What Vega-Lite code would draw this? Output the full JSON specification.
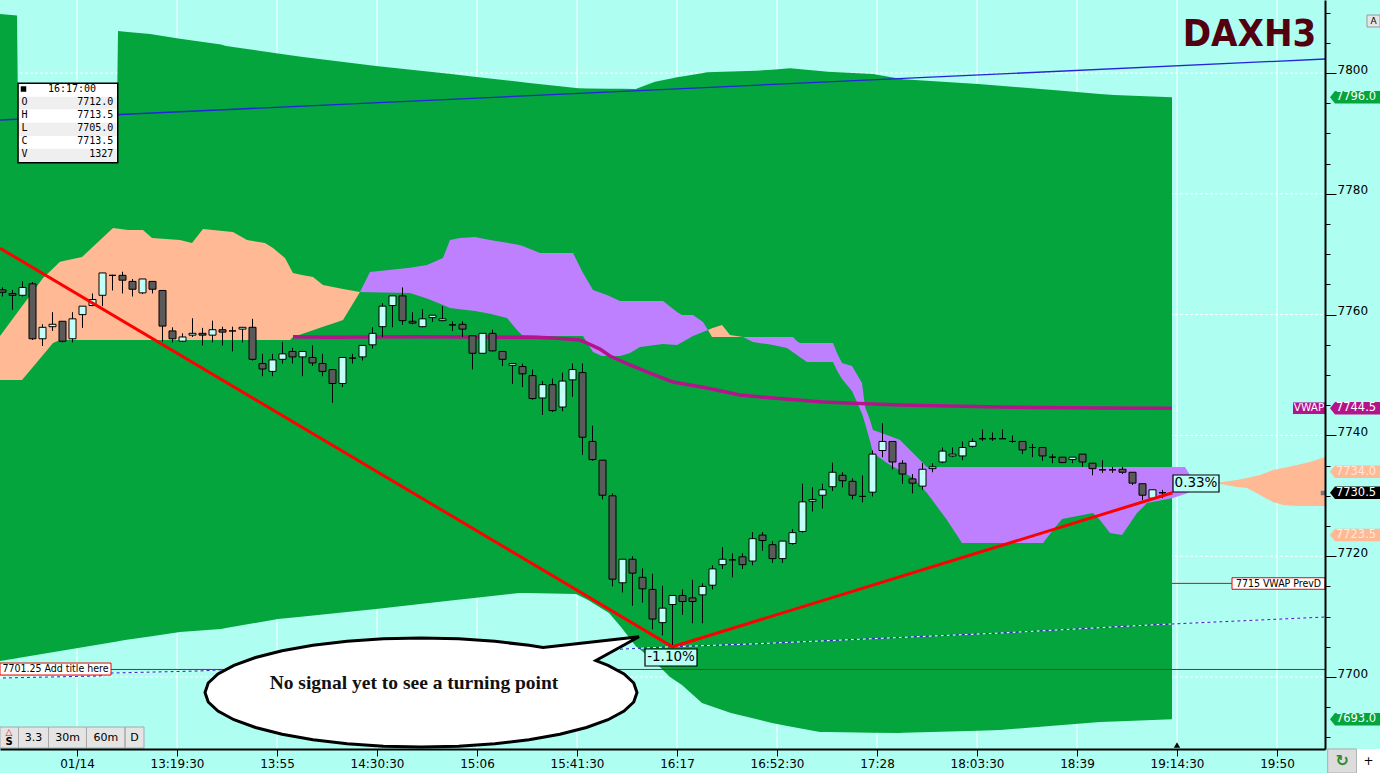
{
"$schema":"https://vega.github.io/schema/vega-lite/v6.json",
"width":1325,"height":749,
"autosize":{"type":"none"},
"padding":{"left":0,"top":0,"right":55,"bottom":24},
"background":"#aefef2",
"config":{"view":{"stroke":null},"text":{"font":"DejaVu Sans"}},
"resolve":{"axis":{"y":"independent"}},
"datasets":{
"vgrid":[{"k":7.45,"p":7688.08,"p2":7812.09},{"k":17.45,"p":7688.08,"p2":7812.09},{"k":27.45,"p":7688.08,"p2":7812.09},{"k":37.45,"p":7688.08,"p2":7812.09},{"k":47.45,"p":7688.08,"p2":7812.09},{"k":57.45,"p":7688.08,"p2":7812.09},{"k":67.45,"p":7688.08,"p2":7812.09},{"k":77.45,"p":7688.08,"p2":7812.09},{"k":87.45,"p":7688.08,"p2":7812.09},{"k":97.45,"p":7688.08,"p2":7812.09},{"k":107.45,"p":7688.08,"p2":7812.09},{"k":117.45,"p":7688.08,"p2":7812.09},{"k":127.45,"p":7688.08,"p2":7812.09}],
"hgrid":[{"k":-0.25,"k2":132.25,"p":7700},{"k":-0.25,"k2":132.25,"p":7720},{"k":-0.25,"k2":132.25,"p":7740},{"k":-0.25,"k2":132.25,"p":7760},{"k":-0.25,"k2":132.25,"p":7780},{"k":-0.25,"k2":132.25,"p":7800}],
"band":[{"k":-0.25,"p":7809.77,"p2":7702.65},{"k":1.45,"p":7809.52,"p2":7703.11},{"k":1.55,"p":7793.87,"p2":7703.15},{"k":5.75,"p":7793.87,"p2":7704.3},{"k":11.45,"p":7793.87,"p2":7705.89},{"k":11.55,"p":7806.95,"p2":7705.93},{"k":12.25,"p":7806.84,"p2":7706.13},{"k":14.75,"p":7806.46,"p2":7706.72},{"k":17.75,"p":7805.68,"p2":7707.45},{"k":21.85,"p":7804.72,"p2":7707.95},{"k":22.35,"p":7804.47,"p2":7708.1},{"k":27.55,"p":7803.25,"p2":7709.6},{"k":29.85,"p":7802.7,"p2":7709.98},{"k":37.35,"p":7801.16,"p2":7711.26},{"k":44.85,"p":7799.83,"p2":7712.65},{"k":47.15,"p":7799.4,"p2":7713.08},{"k":51.65,"p":7798.54,"p2":7713.91},{"k":52.45,"p":7798.39,"p2":7713.89},{"k":57.35,"p":7797.52,"p2":7713.74},{"k":57.65,"p":7797.47,"p2":7713.49},{"k":58.55,"p":7797.45,"p2":7712.75},{"k":60.65,"p":7797.4,"p2":7710.6},{"k":61.85,"p":7797.38,"p2":7708.28},{"k":63.35,"p":7797.35,"p2":7705.07},{"k":63.45,"p":7797.42,"p2":7704.97},{"k":65.05,"p":7798.43,"p2":7702.81},{"k":65.25,"p":7798.56,"p2":7702.48},{"k":66.75,"p":7799.06,"p2":7700.0},{"k":67.45,"p":7799.29,"p2":7699.22},{"k":67.95,"p":7799.42,"p2":7698.68},{"k":69.95,"p":7799.98,"p2":7695.7},{"k":70.45,"p":7800.12,"p2":7695.41},{"k":72.85,"p":7800.25,"p2":7694.04},{"k":75.35,"p":7800.38,"p2":7693.03},{"k":76.95,"p":7800.56,"p2":7692.38},{"k":78.75,"p":7800.78,"p2":7691.82},{"k":81.75,"p":7800.33,"p2":7690.89},{"k":82.55,"p":7800.22,"p2":7690.88},{"k":87.05,"p":7799.83,"p2":7690.78},{"k":89.75,"p":7799.04,"p2":7690.73},{"k":90.05,"p":7798.96,"p2":7690.75},{"k":97.55,"p":7798.18,"p2":7691.11},{"k":99.75,"p":7797.88,"p2":7691.23},{"k":105.05,"p":7797.19,"p2":7691.92},{"k":109.75,"p":7796.54,"p2":7692.55},{"k":111.15,"p":7796.36,"p2":7692.65},{"k":116.95,"p":7796.0,"p2":7693.0}],
"cloud":[
{"seg":"c1","kind":"up","k":-0.25,"p":7756.46,"p2":7749.17},{"seg":"c1","kind":"up","k":1.95,"p":7761.37,"p2":7749.17},{"seg":"c1","kind":"up","k":4.05,"p":7766.06,"p2":7753.33},{"seg":"c1","kind":"up","k":5.05,"p":7767.63,"p2":7755.3},{"seg":"c1","kind":"up","k":5.75,"p":7768.74,"p2":7755.79},{"seg":"c1","kind":"up","k":7.95,"p":7769.54,"p2":7755.79},{"seg":"c1","kind":"up","k":11.05,"p":7774.34,"p2":7755.79},{"seg":"c1","kind":"up","k":12.55,"p":7774.01,"p2":7755.79},{"seg":"c1","kind":"up","k":14.05,"p":7774.01,"p2":7755.79},{"seg":"c1","kind":"up","k":14.95,"p":7772.68,"p2":7755.79},{"seg":"c1","kind":"up","k":17.75,"p":7772.35,"p2":7755.79},{"seg":"c1","kind":"up","k":18.95,"p":7771.85,"p2":7755.79},{"seg":"c1","kind":"up","k":20.05,"p":7774.17,"p2":7755.79},{"seg":"c1","kind":"up","k":23.05,"p":7773.68,"p2":7755.79},{"seg":"c1","kind":"up","k":24.45,"p":7772.35,"p2":7755.79},{"seg":"c1","kind":"up","k":26.25,"p":7771.85,"p2":7755.79},{"seg":"c1","kind":"up","k":27.05,"p":7771.03,"p2":7755.79},{"seg":"c1","kind":"up","k":28.25,"p":7769.37,"p2":7755.79},{"seg":"c1","kind":"up","k":28.75,"p":7767.81,"p2":7755.79},{"seg":"c1","kind":"up","k":29.05,"p":7766.89,"p2":7756.29},{"seg":"c1","kind":"up","k":29.95,"p":7766.56,"p2":7756.8},{"seg":"c1","kind":"up","k":31.05,"p":7766.23,"p2":7757.42},{"seg":"c1","kind":"up","k":32.05,"p":7764.9,"p2":7757.98},{"seg":"c1","kind":"up","k":33.05,"p":7764.57,"p2":7758.54},{"seg":"c1","kind":"up","k":34.05,"p":7764.26,"p2":7759.11},{"seg":"c1","kind":"up","k":35.75,"p":7763.74,"p2":7763.74},
{"seg":"c2","kind":"down","k":35.75,"p":7763.74,"p2":7763.74},{"seg":"c2","kind":"down","k":36.75,"p":7767.05,"p2":7763.71},{"seg":"c2","kind":"down","k":40.75,"p":7767.76,"p2":7763.58},{"seg":"c2","kind":"down","k":42.45,"p":7768.21,"p2":7762.65},{"seg":"c2","kind":"down","k":44.05,"p":7769.37,"p2":7761.59},{"seg":"c2","kind":"down","k":44.75,"p":7772.35,"p2":7761.09},{"seg":"c2","kind":"down","k":45.75,"p":7772.68,"p2":7760.89},{"seg":"c2","kind":"down","k":47.25,"p":7772.85,"p2":7760.6},{"seg":"c2","kind":"down","k":48.75,"p":7772.35,"p2":7760.13},{"seg":"c2","kind":"down","k":50.45,"p":7771.89,"p2":7759.44},{"seg":"c2","kind":"down","k":51.45,"p":7771.61,"p2":7757.45},{"seg":"c2","kind":"down","k":51.95,"p":7771.39,"p2":7756.62},{"seg":"c2","kind":"down","k":53.75,"p":7770.2,"p2":7756.46},{"seg":"c2","kind":"down","k":57.05,"p":7770.2,"p2":7756.46},{"seg":"c2","kind":"down","k":58.05,"p":7766.89,"p2":7756.46},{"seg":"c2","kind":"down","k":59.05,"p":7764.07,"p2":7753.81},{"seg":"c2","kind":"down","k":59.95,"p":7763.54,"p2":7753.15},{"seg":"c2","kind":"down","k":60.45,"p":7763.25,"p2":7753.15},{"seg":"c2","kind":"down","k":61.75,"p":7762.25,"p2":7753.15},{"seg":"c2","kind":"down","k":62.75,"p":7762.25,"p2":7753.64},{"seg":"c2","kind":"down","k":63.75,"p":7762.25,"p2":7754.64},{"seg":"c2","kind":"down","k":66.05,"p":7762.25,"p2":7755.13},{"seg":"c2","kind":"down","k":67.45,"p":7760.43,"p2":7754.97},{"seg":"c2","kind":"down","k":67.95,"p":7759.93,"p2":7755.43},{"seg":"c2","kind":"down","k":69.05,"p":7759.93,"p2":7756.46},{"seg":"c2","kind":"down","k":70.05,"p":7758.77,"p2":7757.12},{"seg":"c2","kind":"down","k":70.55,"p":7757.45,"p2":7757.45},
{"seg":"c3","kind":"up","k":70.55,"p":7757.45,"p2":7757.45},{"seg":"c3","kind":"up","k":70.95,"p":7757.73,"p2":7756.29},{"seg":"c3","kind":"up","k":71.95,"p":7758.28,"p2":7756.29},{"seg":"c3","kind":"up","k":72.75,"p":7756.62,"p2":7756.29},{"seg":"c3","kind":"up","k":74.05,"p":7756.29,"p2":7756.29},
{"seg":"c4","kind":"down","k":74.05,"p":7756.29,"p2":7756.29},{"seg":"c4","kind":"down","k":75.05,"p":7756.29,"p2":7755.46},{"seg":"c4","kind":"down","k":77.05,"p":7756.29,"p2":7754.97},{"seg":"c4","kind":"down","k":78.45,"p":7756.29,"p2":7754.47},{"seg":"c4","kind":"down","k":79.05,"p":7756.29,"p2":7753.77},{"seg":"c4","kind":"down","k":79.45,"p":7755.58,"p2":7753.31},{"seg":"c4","kind":"down","k":79.75,"p":7755.3,"p2":7752.96},{"seg":"c4","kind":"down","k":80.45,"p":7755.3,"p2":7752.15},{"seg":"c4","kind":"down","k":83.05,"p":7755.3,"p2":7752.15},{"seg":"c4","kind":"down","k":83.45,"p":7753.64,"p2":7750.73},{"seg":"c4","kind":"down","k":83.95,"p":7751.99,"p2":7749.34},{"seg":"c4","kind":"down","k":84.95,"p":7751.49,"p2":7747.35},{"seg":"c4","kind":"down","k":85.95,"p":7748.68,"p2":7743.63},{"seg":"c4","kind":"down","k":86.25,"p":7744.7,"p2":7742.0},{"seg":"c4","kind":"down","k":86.75,"p":7742.55,"p2":7739.07},{"seg":"c4","kind":"down","k":87.05,"p":7740.89,"p2":7737.09},{"seg":"c4","kind":"down","k":88.45,"p":7740.07,"p2":7735.43},{"seg":"c4","kind":"down","k":89.75,"p":7739.24,"p2":7734.21},{"seg":"c4","kind":"down","k":91.05,"p":7737.09,"p2":7733.0},{"seg":"c4","kind":"down","k":92.45,"p":7734.77,"p2":7730.46},{"seg":"c4","kind":"down","k":92.75,"p":7734.77,"p2":7729.8},{"seg":"c4","kind":"down","k":94.45,"p":7734.77,"p2":7725.99},{"seg":"c4","kind":"down","k":95.95,"p":7734.77,"p2":7722.19},{"seg":"c4","kind":"down","k":104.05,"p":7734.77,"p2":7722.19},{"seg":"c4","kind":"down","k":105.05,"p":7734.77,"p2":7724.34},{"seg":"c4","kind":"down","k":105.95,"p":7734.77,"p2":7726.16},{"seg":"c4","kind":"down","k":109.05,"p":7734.77,"p2":7727.15},{"seg":"c4","kind":"down","k":109.75,"p":7734.77,"p2":7725.99},{"seg":"c4","kind":"down","k":110.75,"p":7734.77,"p2":7723.84},{"seg":"c4","kind":"down","k":111.95,"p":7734.77,"p2":7723.51},{"seg":"c4","kind":"down","k":113.45,"p":7734.77,"p2":7727.15},{"seg":"c4","kind":"down","k":114.45,"p":7734.77,"p2":7728.81},{"seg":"c4","kind":"down","k":117.05,"p":7734.77,"p2":7729.64},{"seg":"c4","kind":"down","k":118.25,"p":7734.77,"p2":7730.3},{"seg":"c4","kind":"down","k":119.05,"p":7732.62,"p2":7730.85},{"seg":"c4","kind":"down","k":120.95,"p":7732.19,"p2":7732.12},{"seg":"c4","kind":"down","k":121.25,"p":7732.12,"p2":7732.12},
{"seg":"c5","kind":"up","k":121.25,"p":7732.12,"p2":7732.12},{"seg":"c5","kind":"up","k":123.45,"p":7732.62,"p2":7731.46},{"seg":"c5","kind":"up","k":124.45,"p":7732.95,"p2":7731.29},{"seg":"c5","kind":"up","k":125.75,"p":7733.44,"p2":7730.13},{"seg":"c5","kind":"up","k":127.05,"p":7734.27,"p2":7728.97},{"seg":"c5","kind":"up","k":128.05,"p":7734.6,"p2":7728.48},{"seg":"c5","kind":"up","k":129.45,"p":7735.1,"p2":7728.31},{"seg":"c5","kind":"up","k":130.75,"p":7735.6,"p2":7728.31},{"seg":"c5","kind":"up","k":132.25,"p":7736.42,"p2":7728.31}],
"blue":[{"k":-0.25,"p":7792.22},{"k":132.25,"p":7802.32}],
"dotted":[{"k":-0.25,"p":7699.83},{"k":9.75,"p":7700.17},{"k":10.85,"p":7700.66},{"k":19.75,"p":7701.0},{"k":39.75,"p":7702.81},{"k":49.75,"p":7703.64},{"k":61.75,"p":7704.6},{"k":66.75,"p":7705.0},{"k":74.75,"p":7705.46},{"k":81.75,"p":7705.96},{"k":99.75,"p":7707.28},{"k":114.75,"p":7708.61},{"k":132.25,"p":7709.93}],
"vwap":[{"k":29.05,"p":7756.34},{"k":32.45,"p":7756.24},{"k":41.45,"p":7756.34},{"k":53.45,"p":7756.24},{"k":55.45,"p":7756.08},{"k":57.75,"p":7755.79},{"k":58.45,"p":7755.3},{"k":59.75,"p":7754.3},{"k":60.75,"p":7753.15},{"k":62.75,"p":7751.66},{"k":64.75,"p":7750.33},{"k":67.05,"p":7748.84},{"k":70.45,"p":7747.85},{"k":73.75,"p":7746.69},{"k":77.05,"p":7746.19},{"k":82.05,"p":7745.53},{"k":87.05,"p":7745.2},{"k":89.75,"p":7745.03},{"k":99.75,"p":7744.7},{"k":109.75,"p":7744.55},{"k":116.95,"p":7744.5}],
"hred":[{"k":-0.25,"k2":132.25,"p":7701.25},{"k":116.95,"k2":132.25,"p":7715.5}],
"trend":[{"k":-0.25,"p":7771.0},{"k":67,"p":7705.0},{"k":117,"p":7730.5}],
"candles":[
{"k":0,"o":7764.1,"h":7764.5,"l":7763.0,"c":7763.7},{"k":1,"o":7763.5,"h":7764.1,"l":7760.8,"c":7763.2},{"k":2,"o":7763.2,"h":7765.5,"l":7763.0,"c":7764.5},{"k":3,"o":7765.1,"h":7765.4,"l":7755.8,"c":7756.0},{"k":4,"o":7756.0,"h":7758.4,"l":7754.8,"c":7757.9},{"k":5,"o":7758.0,"h":7760.4,"l":7757.3,"c":7758.4},{"k":6,"o":7758.9,"h":7758.9,"l":7755.4,"c":7755.6},{"k":7,"o":7756.0,"h":7760.4,"l":7755.4,"c":7759.3},{"k":8,"o":7760.0,"h":7761.4,"l":7757.8,"c":7761.4},{"k":9,"o":7761.5,"h":7763.5,"l":7761.4,"c":7762.5},
{"k":10,"o":7763.2,"h":7766.9,"l":7761.4,"c":7766.9},{"k":11,"o":7766.5,"h":7766.6,"l":7764.0,"c":7766.5},{"k":12,"o":7766.5,"h":7767.1,"l":7763.5,"c":7765.7},{"k":13,"o":7765.5,"h":7765.9,"l":7763.0,"c":7764.2},{"k":14,"o":7763.6,"h":7765.9,"l":7763.4,"c":7765.9},{"k":15,"o":7765.5,"h":7765.5,"l":7763.5,"c":7764.2},{"k":16,"o":7764.0,"h":7764.0,"l":7755.5,"c":7758.1},{"k":17,"o":7757.3,"h":7757.9,"l":7755.4,"c":7756.0},{"k":18,"o":7755.6,"h":7756.9,"l":7755.5,"c":7756.3},{"k":19,"o":7756.6,"h":7759.4,"l":7756.3,"c":7756.9},
{"k":20,"o":7756.9,"h":7757.8,"l":7754.9,"c":7756.6},{"k":21,"o":7756.6,"h":7759.0,"l":7755.4,"c":7757.5},{"k":22,"o":7757.5,"h":7758.0,"l":7754.9,"c":7757.1},{"k":23,"o":7757.3,"h":7758.0,"l":7753.9,"c":7757.3},{"k":24,"o":7757.6,"h":7757.9,"l":7755.4,"c":7757.9},{"k":25,"o":7757.9,"h":7759.3,"l":7752.4,"c":7752.6},{"k":26,"o":7751.9,"h":7753.5,"l":7749.8,"c":7751.0},{"k":27,"o":7750.6,"h":7753.5,"l":7749.8,"c":7752.5},{"k":28,"o":7752.6,"h":7755.5,"l":7751.9,"c":7753.5},{"k":29,"o":7753.9,"h":7754.5,"l":7751.9,"c":7753.0},
{"k":30,"o":7753.0,"h":7753.9,"l":7749.8,"c":7753.9},{"k":31,"o":7752.9,"h":7754.9,"l":7751.5,"c":7752.0},{"k":32,"o":7751.9,"h":7753.5,"l":7749.8,"c":7750.6},{"k":33,"o":7750.9,"h":7750.9,"l":7745.4,"c":7748.6},{"k":34,"o":7748.6,"h":7752.9,"l":7748.0,"c":7752.9},{"k":35,"o":7752.8,"h":7753.5,"l":7751.9,"c":7752.8},{"k":36,"o":7753.0,"h":7754.9,"l":7752.4,"c":7754.9},{"k":37,"o":7755.0,"h":7757.9,"l":7754.4,"c":7756.9},{"k":38,"o":7758.0,"h":7761.9,"l":7756.3,"c":7761.4},{"k":39,"o":7761.5,"h":7763.1,"l":7757.9,"c":7763.1},
{"k":40,"o":7763.1,"h":7764.5,"l":7758.3,"c":7759.0},{"k":41,"o":7758.9,"h":7760.4,"l":7758.4,"c":7758.6},{"k":42,"o":7758.0,"h":7760.9,"l":7757.9,"c":7759.3},{"k":43,"o":7759.5,"h":7759.9,"l":7758.8,"c":7759.9},{"k":44,"o":7759.0,"h":7761.4,"l":7758.9,"c":7759.3},{"k":45,"o":7758.3,"h":7758.9,"l":7757.3,"c":7758.3},{"k":46,"o":7758.4,"h":7758.9,"l":7756.3,"c":7757.6},{"k":47,"o":7756.5,"h":7756.5,"l":7750.9,"c":7753.6},{"k":48,"o":7753.6,"h":7756.9,"l":7753.5,"c":7756.9},{"k":49,"o":7756.9,"h":7757.5,"l":7753.9,"c":7754.0},
{"k":50,"o":7753.9,"h":7753.9,"l":7751.5,"c":7752.6},{"k":51,"o":7751.6,"h":7751.9,"l":7748.5,"c":7751.9},{"k":52,"o":7751.4,"h":7751.9,"l":7748.0,"c":7750.2},{"k":53,"o":7749.9,"h":7750.9,"l":7745.9,"c":7746.1},{"k":54,"o":7746.2,"h":7749.0,"l":7743.4,"c":7748.4},{"k":55,"o":7748.4,"h":7749.4,"l":7743.9,"c":7744.1},{"k":56,"o":7744.7,"h":7750.4,"l":7744.0,"c":7749.0},{"k":57,"o":7749.2,"h":7751.9,"l":7746.4,"c":7750.9},{"k":58,"o":7750.4,"h":7751.9,"l":7736.8,"c":7739.7},{"k":59,"o":7739.0,"h":7741.6,"l":7735.8,"c":7736.0},
{"k":60,"o":7735.9,"h":7735.9,"l":7729.4,"c":7730.1},{"k":61,"o":7730.0,"h":7730.4,"l":7715.0,"c":7716.2},{"k":62,"o":7715.6,"h":7719.5,"l":7714.0,"c":7719.5},{"k":63,"o":7719.5,"h":7720.0,"l":7711.8,"c":7717.2},{"k":64,"o":7716.5,"h":7718.0,"l":7712.3,"c":7714.6},{"k":65,"o":7714.5,"h":7717.1,"l":7707.9,"c":7709.6},{"k":66,"o":7709.0,"h":7715.1,"l":7706.9,"c":7711.4},{"k":67,"o":7712.0,"h":7713.5,"l":7705.0,"c":7713.5},{"k":68,"o":7713.5,"h":7714.5,"l":7710.3,"c":7712.5},{"k":69,"o":7713.1,"h":7716.1,"l":7708.9,"c":7712.5},
{"k":70,"o":7713.6,"h":7715.5,"l":7708.9,"c":7715.0},{"k":71,"o":7715.2,"h":7718.5,"l":7714.5,"c":7717.9},{"k":72,"o":7718.6,"h":7721.5,"l":7717.9,"c":7719.5},{"k":73,"o":7719.4,"h":7720.5,"l":7716.5,"c":7719.4},{"k":74,"o":7719.9,"h":7720.5,"l":7717.9,"c":7718.6},{"k":75,"o":7719.2,"h":7724.0,"l":7718.5,"c":7722.9},{"k":76,"o":7723.5,"h":7724.0,"l":7720.9,"c":7722.6},{"k":77,"o":7721.9,"h":7722.5,"l":7718.9,"c":7719.6},{"k":78,"o":7719.6,"h":7722.5,"l":7718.9,"c":7722.5},{"k":79,"o":7722.1,"h":7724.5,"l":7721.9,"c":7723.9},
{"k":80,"o":7724.1,"h":7732.0,"l":7723.9,"c":7729.0},{"k":81,"o":7729.1,"h":7731.4,"l":7727.4,"c":7729.4},{"k":82,"o":7730.1,"h":7732.0,"l":7727.9,"c":7731.0},{"k":83,"o":7731.5,"h":7735.5,"l":7730.8,"c":7733.9},{"k":84,"o":7733.4,"h":7733.9,"l":7731.4,"c":7732.5},{"k":85,"o":7732.4,"h":7732.9,"l":7729.4,"c":7730.1},{"k":86,"o":7729.9,"h":7733.4,"l":7728.9,"c":7729.9},{"k":87,"o":7730.6,"h":7737.5,"l":7729.9,"c":7736.9},{"k":88,"o":7737.5,"h":7742.0,"l":7736.4,"c":7739.0},{"k":89,"o":7739.0,"h":7739.0,"l":7734.4,"c":7735.6},
{"k":90,"o":7735.4,"h":7735.9,"l":7732.0,"c":7733.6},{"k":91,"o":7732.8,"h":7733.6,"l":7730.4,"c":7732.1},{"k":92,"o":7731.6,"h":7735.4,"l":7731.0,"c":7734.4},{"k":93,"o":7734.5,"h":7735.4,"l":7733.9,"c":7734.8},{"k":94,"o":7735.6,"h":7738.0,"l":7735.4,"c":7737.4},{"k":95,"o":7736.6,"h":7738.0,"l":7736.4,"c":7736.9},{"k":96,"o":7736.6,"h":7739.0,"l":7735.9,"c":7738.0},{"k":97,"o":7738.2,"h":7739.5,"l":7738.0,"c":7739.0},{"k":98,"o":7739.45,"h":7741.0,"l":7739.1,"c":7739.45},{"k":99,"o":7739.45,"h":7740.5,"l":7739.1,"c":7739.45},
{"k":100,"o":7739.45,"h":7741.0,"l":7739.4,"c":7739.45},{"k":101,"o":7739.0,"h":7740.0,"l":7738.8,"c":7739.0},{"k":102,"o":7739.0,"h":7739.0,"l":7736.9,"c":7737.6},{"k":103,"o":7738.0,"h":7738.6,"l":7736.4,"c":7738.0},{"k":104,"o":7738.0,"h":7738.0,"l":7735.8,"c":7736.6},{"k":105,"o":7736.4,"h":7736.9,"l":7735.4,"c":7736.4},{"k":106,"o":7736.4,"h":7736.4,"l":7735.4,"c":7735.5},{"k":107,"o":7736.0,"h":7736.4,"l":7735.4,"c":7736.4},{"k":108,"o":7736.9,"h":7736.9,"l":7734.8,"c":7735.6},{"k":109,"o":7735.4,"h":7735.4,"l":7733.4,"c":7734.5},
{"k":110,"o":7734.3,"h":7735.9,"l":7733.8,"c":7734.3},{"k":111,"o":7734.3,"h":7734.8,"l":7733.8,"c":7734.3},{"k":112,"o":7734.4,"h":7734.8,"l":7733.6,"c":7733.9},{"k":113,"o":7733.9,"h":7733.9,"l":7731.8,"c":7732.1},{"k":114,"o":7732.0,"h":7732.0,"l":7729.3,"c":7730.1},{"k":115,"o":7729.6,"h":7731.0,"l":7729.6,"c":7731.0},{"k":116,"o":7730.5,"h":7731.0,"l":7729.6,"c":7730.5}],
"pct1":[{"k":66.85,"p":7703.23,"t":"-1.10%"}],
"pct2":[{"k":119.35,"p":7732.04,"t":"0.33%"}],
"lbl1":[{"k":5.3,"p":7701.32,"t":"7701.25 Add title here"}],
"lbl2":[{"k":127.6,"p":7715.48,"t":"7715 VWAP PrevD"}],
"bubble":[{"k":41.85,"p":7697.43}],
"bubbletext":[{"k":41.15,"p":7697.99,"t":"No signal yet to see a turning point"}],
"ohlcbox":[{"k":6.54,"p":7791.72}],
"ohlcH":[{"k":6.95,"p":7797.35,"t":"16:17:00"}],
"ohlcIcon":[{"k":2.1,"p":7797.35}],
"ohlcL":[{"k":1.9,"p":7795.15,"t":"O"},{"k":1.9,"p":7793.05,"t":"H"},{"k":1.9,"p":7790.89,"t":"L"},{"k":1.9,"p":7788.74,"t":"C"},{"k":1.9,"p":7786.59,"t":"V"}],
"ohlcV":[{"k":11.08,"p":7795.15,"t":"7712.0"},{"k":11.08,"p":7793.05,"t":"7713.5"},{"k":11.08,"p":7790.89,"t":"7705.0"},{"k":11.08,"p":7788.74,"t":"7713.5"},{"k":11.08,"p":7786.59,"t":"1327"}],
"buttons":[{"k":6.95,"p":7689.98}],
"buttonText":[{"k":3.1,"p":7689.98,"t":"3.3"},{"k":6.5,"p":7689.98,"t":"30m"},{"k":10.33,"p":7689.98,"t":"60m"},{"k":13.2,"p":7689.98,"t":"D"}],
"btnIconTop":[{"k":0.65,"p":7690.85,"t":"△"}],
"btnIconBot":[{"k":0.65,"p":7689.2,"t":"S"}],
"vwapbox":[{"k":130.65,"p":7744.5,"t":"VWAP"}],
"tags":[{"k":135.25,"p":7796.0,"s":"band","t":"7796.0"},{"k":135.25,"p":7744.5,"s":"vwap","t":"7744.5"},{"k":135.25,"p":7734.0,"s":"cloud","t":"7734.0"},{"k":135.25,"p":7730.5,"s":"last","t":"7730.5"},{"k":135.25,"p":7723.5,"s":"cloud","t":"7723.5"},{"k":135.25,"p":7693.0,"s":"band","t":"7693.0"}],
"handle":[{"k":132.05,"p":7730.46}],
"title":[{"k":124.7,"p":7804.47,"t":"DAXH3"}],
"abtn":[{"k":137.1,"p":7808.61,"t":"A"}],
"refresh":[{"k":133.97,"p":7686.09,"t":"↻"}],
"plus":[{"k":136.6,"p":7686.09,"t":"+"}],
"cursor":[{"k":117.45,"p":7688.75}]
},
"encoding":{
"x":{"field":"k","type":"quantitative","scale":{"domain":[-0.25,132.25],"nice":false,"zero":false,"padding":0},
"axis":{"orient":"bottom","values":[7.45,17.45,27.45,37.45,47.45,57.45,67.45,77.45,87.45,97.45,107.45,117.45,127.45],
"labelExpr":"['01/14','13:19:30','13:55','14:30:30','15:06','15:41:30','16:17','16:52:30','17:28','18:03:30','18:39','19:14:30','19:50'][round((datum.value-7.45)/10)]",
"domainColor":"#000000","domainWidth":2,"tickColor":"#000000","tickSize":7,"tickWidth":1,"labelFont":"DejaVu Sans","labelFontSize":12,"labelColor":"#000000","labelPadding":2,"labelOverlap":false,"labelFlush":false,"labelBound":false,"grid":false,"title":null,"zindex":1}},
"y":{"field":"p","type":"quantitative","scale":{"domain":[7688.08,7812.09],"nice":false,"zero":false,"padding":0},"axis":null}
},
"layer":[
{"data":{"name":"vgrid"},"mark":{"type":"rule","color":"#ffffff","strokeWidth":1},"encoding":{"y":{"field":"p","type":"quantitative","scale":{"domain":[7688.08,7812.09],"nice":false,"zero":false,"padding":0},"axis":{"orient":"right","values":[7700,7720,7740,7760,7780,7800],"format":"d","tickSize":11,"tickColor":"#000000","tickWidth":1,"domain":true,"domainColor":"#000000","domainWidth":2,"labelFont":"DejaVu Sans","labelFontSize":12,"labelColor":"#000000","labelBaseline":"alphabetic","labelAlign":"left","labelPadding":1,"labelOverlap":false,"labelBound":false,"labelFlush":false,"grid":false,"title":null,"zindex":1}},"y2":{"field":"p2"}}},
{"data":{"name":"hgrid"},"mark":{"type":"rule","color":"#ffffff","strokeWidth":1,"strokeDash":[3,2]},"encoding":{"y":{"field":"p","type":"quantitative","scale":{"domain":[7688.08,7812.09],"nice":false,"zero":false,"padding":0},"axis":{"orient":"right","values":[7690,7695,7700,7705,7710,7715,7720,7725,7730,7735,7740,7745,7750,7755,7760,7765,7770,7775,7780,7785,7790,7795,7800,7805,7810],"tickSize":5,"tickColor":"#000000","tickWidth":1,"domain":false,"labels":false,"grid":false,"title":null,"zindex":1}},"x2":{"field":"k2"}}},
{"data":{"name":"band"},"mark":{"type":"area","orient":"vertical","color":"#04a53d","opacity":1},"encoding":{"y2":{"field":"p2"}}},
{"data":{"name":"cloud"},"mark":{"type":"area","orient":"vertical","opacity":1},"encoding":{"y":{"field":"p","type":"quantitative","stack":null,"scale":{"domain":[7688.08,7812.09]},"axis":null},"y2":{"field":"p2"},"detail":{"field":"seg"},"fill":{"condition":{"test":"datum.kind === 'up'","value":"#ffb994"},"value":"#bf80ff"}}},
{"data":{"name":"blue"},"mark":{"type":"line","color":"#2424d8","strokeWidth":1.3},"encoding":{}},
{"data":{"name":"dotted"},"mark":{"type":"line","color":"#ffffff","strokeWidth":1,"strokeDash":[3,3]},"encoding":{}},
{"data":{"name":"dotted"},"mark":{"type":"line","color":"#2a2ad0","strokeWidth":1,"strokeDash":[3,3],"strokeDashOffset":3},"encoding":{}},
{"data":{"name":"vwap"},"mark":{"type":"line","color":"#b4138c","strokeWidth":3.5},"encoding":{}},
{"data":{"name":"hred"},"mark":{"type":"rule","color":"#ee0000","strokeWidth":1},"encoding":{"x2":{"field":"k2"}}},
{"data":{"name":"candles"},"mark":{"type":"rule","color":"#000000","strokeWidth":1},"encoding":{"y":{"field":"l","type":"quantitative","scale":{"domain":[7688.08,7812.09]},"axis":null},"y2":{"field":"h"}}},
{"data":{"name":"candles"},"mark":{"type":"bar","size":7,"stroke":"#000000","strokeWidth":1,"opacity":1},"encoding":{"y":{"field":"o","type":"quantitative","scale":{"domain":[7688.08,7812.09]},"axis":null},"y2":{"field":"c"},"fill":{"condition":{"test":"datum.c >= datum.o","value":"#c2fff9"},"value":"#5a5a5a"}}},
{"data":{"name":"trend"},"mark":{"type":"line","color":"#ff0000","strokeWidth":3},"encoding":{}},
{"data":{"name":"pct1"},"mark":{"type":"point","shape":"M-1,-0.327L1,-0.327L1,0.327L-1,0.327Z","size":2704,"filled":true,"fill":"#b9fff6","stroke":"#000000","strokeWidth":1.2,"opacity":1},"encoding":{}},
{"data":{"name":"pct1"},"mark":{"type":"text","fontSize":13.5,"color":"#000000","align":"center","baseline":"middle"},"encoding":{"text":{"field":"t"}}},
{"data":{"name":"pct2"},"mark":{"type":"point","shape":"M-1,-0.37L1,-0.37L1,0.37L-1,0.37Z","size":2116,"filled":true,"fill":"#b9fff6","stroke":"#000000","strokeWidth":1.2,"opacity":1},"encoding":{}},
{"data":{"name":"pct2"},"mark":{"type":"text","fontSize":13.5,"color":"#000000","align":"center","baseline":"middle"},"encoding":{"text":{"field":"t"}}},
{"data":{"name":"lbl1"},"mark":{"type":"point","shape":"M-1,-0.108L1,-0.108L1,0.108L-1,0.108Z","size":12321,"filled":true,"fill":"#ffffff","stroke":"#ee0000","strokeWidth":1,"opacity":1},"encoding":{}},
{"data":{"name":"lbl1"},"mark":{"type":"text","font":"DejaVu Sans Condensed, DejaVu Sans","fontSize":10.5,"color":"#000000","align":"center","baseline":"middle"},"encoding":{"text":{"field":"t"}}},
{"data":{"name":"lbl2"},"mark":{"type":"point","shape":"M-1,-0.124L1,-0.124L1,0.124L-1,0.124Z","size":8649,"filled":true,"fill":"#ffffff","stroke":"#ee0000","strokeWidth":1,"opacity":1},"encoding":{}},
{"data":{"name":"lbl2"},"mark":{"type":"text","font":"DejaVu Sans Condensed, DejaVu Sans","fontSize":10.5,"color":"#000000","align":"center","baseline":"middle"},"encoding":{"text":{"field":"t"}}},
{"data":{"name":"bubble"},"mark":{"type":"point","shape":"M0.810,-0.148L0.866,-0.126L0.940,-0.086L0.985,-0.044L1,0L0.985,0.044L0.940,0.086L0.866,0.126L0.766,0.162L0.643,0.193L0.5,0.2185L0.342,0.237L0.174,0.2485L0,0.2523L-0.174,0.2485L-0.342,0.237L-0.5,0.2185L-0.643,0.193L-0.766,0.162L-0.866,0.126L-0.940,0.086L-0.985,0.044L-1,0L-0.985,-0.044L-0.940,-0.086L-0.866,-0.126L-0.766,-0.162L-0.643,-0.193L-0.5,-0.2185L-0.342,-0.237L-0.174,-0.2485L0,-0.2523L0.174,-0.2485L0.342,-0.237L0.5,-0.2185L0.565,-0.208L1.009,-0.258Z","size":186624,"filled":true,"fill":"#ffffff","stroke":"#000000","strokeWidth":3,"strokeJoin":"miter","opacity":1},"encoding":{}},
{"data":{"name":"bubbletext"},"mark":{"type":"text","font":"Liberation Serif","fontWeight":"bold","fontSize":19.5,"color":"#111111","align":"center","baseline":"alphabetic"},"encoding":{"text":{"field":"t"}}},
{"data":{"name":"ohlcbox"},"mark":{"type":"point","shape":"M-1,-0.796L1,-0.796L1,0.796L-1,0.796Z","size":9940,"filled":true,"fill":"#ffffff","stroke":"#000000","strokeWidth":1.5,"opacity":1},"encoding":{}},
{"data":{"name":"ohlcbox"},"mark":{"type":"point","shape":"M-0.98,-0.528L0.98,-0.528L0.98,-0.275L-0.98,-0.275Z M-0.98,-0.006L0.98,-0.006L0.98,0.261L-0.98,0.261Z M-0.98,0.516L0.98,0.516L0.98,0.78L-0.98,0.78Z","size":9940,"filled":true,"fill":"#efefef","strokeWidth":0,"opacity":1},"encoding":{}},
{"data":{"name":"ohlcIcon"},"mark":{"type":"point","shape":"square","size":30,"filled":true,"fill":"#000000","strokeWidth":0,"opacity":1},"encoding":{}},
{"data":{"name":"ohlcH"},"mark":{"type":"text","font":"DejaVu Sans Mono","fontSize":10,"color":"#000000","align":"center","baseline":"middle"},"encoding":{"text":{"field":"t"}}},
{"data":{"name":"ohlcL"},"mark":{"type":"text","font":"DejaVu Sans Mono","fontSize":10,"color":"#000000","align":"left","baseline":"middle"},"encoding":{"text":{"field":"t"}}},
{"data":{"name":"ohlcV"},"mark":{"type":"text","font":"DejaVu Sans Mono","fontSize":10,"color":"#000000","align":"right","baseline":"middle"},"encoding":{"text":{"field":"t"}}},
{"data":{"name":"buttons"},"mark":{"type":"point","shape":"M-1,-0.1458L-0.743,-0.1458L-0.743,0.1458L-1,0.1458Z M-0.743,-0.1458L-0.326,-0.1458L-0.326,0.1458L-0.743,0.1458Z M-0.326,-0.1458L0.201,-0.1458L0.201,0.1458L-0.326,0.1458Z M0.201,-0.1458L0.736,-0.1458L0.736,0.1458L0.201,0.1458Z M0.736,-0.1458L1,-0.1458L1,0.1458L0.736,0.1458Z","size":20736,"filled":true,"fill":"#e4e4e4","stroke":"#a9a9a9","strokeWidth":1,"opacity":1},"encoding":{}},
{"data":{"name":"buttonText"},"mark":{"type":"text","fontSize":11,"color":"#000000","align":"center","baseline":"middle"},"encoding":{"text":{"field":"t"}}},
{"data":{"name":"btnIconTop"},"mark":{"type":"text","fontSize":9,"color":"#e00000","align":"center","baseline":"middle"},"encoding":{"text":{"field":"t"}}},
{"data":{"name":"btnIconBot"},"mark":{"type":"text","fontSize":10,"fontWeight":"bold","color":"#000000","align":"center","baseline":"middle"},"encoding":{"text":{"field":"t"}}},
{"data":{"name":"vwapbox"},"mark":{"type":"point","shape":"M-1,-0.3625L1,-0.3625L1,0.3625L-1,0.3625Z","size":1024,"filled":true,"fill":"#b4138c","strokeWidth":0,"opacity":1},"encoding":{}},
{"data":{"name":"vwapbox"},"mark":{"type":"text","fontSize":10.5,"color":"#ffffff","align":"center","baseline":"middle"},"encoding":{"text":{"field":"t"}}},
{"data":{"name":"handle"},"mark":{"type":"point","shape":"square","size":20,"filled":true,"fill":"#777777","strokeWidth":0,"opacity":1},"encoding":{}},
{"data":{"name":"tags"},"mark":{"type":"point","shape":"M-1,0L-0.8,-0.25L1,-0.25L1,0.25L-0.8,0.25Z","size":2500,"filled":true,"strokeWidth":0,"opacity":1},"encoding":{"color":{"condition":[{"test":"datum.s === 'band'","value":"#04a53d"},{"test":"datum.s === 'vwap'","value":"#b4138c"},{"test":"datum.s === 'cloud'","value":"#ffb994"}],"value":"#000000"}}},
{"data":{"name":"tags"},"mark":{"type":"text","fontSize":11.5,"align":"center","baseline":"middle","dx":1},"encoding":{"text":{"field":"t"},"color":{"condition":{"test":"datum.s === 'cloud'","value":"#ffe8dc"},"value":"#ffffff"}}},
{"data":{"name":"title"},"mark":{"type":"text","font":"DejaVu Sans Condensed, DejaVu Sans","fontWeight":"bold","fontSize":38,"color":"#520010","align":"center","baseline":"alphabetic"},"encoding":{"text":{"field":"t"}}},
{"data":{"name":"abtn"},"mark":{"type":"point","shape":"M-1,-0.92L1,-0.92L1,0.92L-1,0.92Z","size":169,"filled":true,"fill":"#e6e6e6","stroke":"#999999","strokeWidth":1,"opacity":1},"encoding":{}},
{"data":{"name":"abtn"},"mark":{"type":"text","fontSize":9,"color":"#000000","align":"center","baseline":"middle"},"encoding":{"text":{"field":"t"}}},
{"data":{"name":"refresh"},"mark":{"type":"point","shape":"M-1,-0.83L1,-0.83L1,0.83L-1,0.83Z","size":841,"filled":true,"fill":"#dcdcdc","stroke":"#aaaaaa","strokeWidth":1,"opacity":1},"encoding":{}},
{"data":{"name":"refresh"},"mark":{"type":"text","fontSize":16,"fontWeight":"bold","color":"#2e8b2e","align":"center","baseline":"middle"},"encoding":{"text":{"field":"t"}}},
{"data":{"name":"plus"},"mark":{"type":"point","shape":"M-1,-1.04L1,-1.04L1,1.04L-1,1.04Z","size":529,"filled":true,"fill":"#ffffff","strokeWidth":0,"opacity":1},"encoding":{}},
{"data":{"name":"plus"},"mark":{"type":"text","fontSize":12,"color":"#000000","align":"center","baseline":"middle"},"encoding":{"text":{"field":"t"}}},
{"data":{"name":"cursor"},"mark":{"type":"point","shape":"triangle-up","size":40,"filled":true,"fill":"#000000","strokeWidth":0,"opacity":1},"encoding":{}}
]
}
